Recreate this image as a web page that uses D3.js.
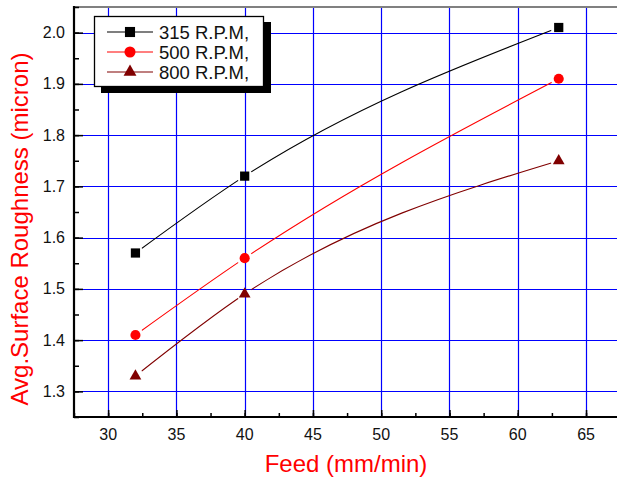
<!DOCTYPE html>
<html>
<head>
<meta charset="utf-8">
<script src="https://cdn.jsdelivr.net/npm/d3@7"></script>
<style>
  body { margin: 0; background: #fff; }
  svg { display: block; font-family: "Liberation Sans", Arial, sans-serif; }
</style>
</head>
<body>
<script>
// data
var feed = [32, 40, 63]
var rpm315 = [1.57, 1.72, 2.01]
var rpm500 = [1.41, 1.56, 1.91]
var rpm800 = [1.33, 1.49, 1.75]
var seriesNames = ["315 R.P.M,", "500 R.P.M,", "800 R.P.M,"]
var xTicks = [30, 35, 40, 45, 50, 55, 60, 65]
var yTicks = [1.3, 1.4, 1.5, 1.6, 1.7, 1.8, 1.9, 2.0]

var series = [
    {name: seriesNames[0], values: rpm315, color: "#000000", symbol: d3.symbolSquare, size: 85},
    {name: seriesNames[1], values: rpm500, color: "#ff0000", symbol: d3.symbolCircle, size: 80},
    {name: seriesNames[2], values: rpm800, color: "#800000", symbol: d3.symbolTriangle, size: 60}
]

var width = 617, height = 479

var svg = d3.select("body").append("svg")
    .attr("width", width)
    .attr("height", height)

var x = d3.scaleLinear().domain([27.5, 68]).range([74, 627])
var y = d3.scaleLinear().domain([1.25, 2.05]).range([417, 7])

// grid
var grid = svg.append("g")
grid.selectAll(".hg")
    .data(yTicks)
    .enter().append("line")
    .attr("x1", 74).attr("x2", width)
    .attr("y1", function(d) { return Math.round(y(d)) + 0.5 })
    .attr("y2", function(d) { return Math.round(y(d)) + 0.5 })
    .attr("stroke", "#0000ff").attr("stroke-width", 1.2)
grid.selectAll(".vg")
    .data(xTicks)
    .enter().append("line")
    .attr("y1", 7).attr("y2", 417)
    .attr("x1", function(d) { return Math.round(x(d)) + 0.5 })
    .attr("x2", function(d) { return Math.round(x(d)) + 0.5 })
    .attr("stroke", "#0000ff").attr("stroke-width", 1.2)

// top frame
svg.append("line")
    .attr("x1", 73).attr("x2", width).attr("y1", 7).attr("y2", 7)
    .attr("stroke", "#808080").attr("stroke-width", 2)

// axes with inner ticks
var yMinor = d3.range(1.25, 2.06, 0.05).map(function(d) { return +d.toFixed(2) })
var xMinor = d3.range(27.5, 68.1, 2.5)

svg.append("g")
    .attr("transform", "translate(74,0)")
    .call(d3.axisRight(y).tickValues(yMinor).tickSize(5).tickFormat(""))
    .call(function(g) { g.select(".domain").remove() })
    .selectAll("line").attr("stroke", "#000").attr("stroke-width", 1.5)
svg.append("g")
    .attr("transform", "translate(74,0)")
    .call(d3.axisRight(y).tickValues(yTicks).tickSize(9).tickFormat(""))
    .call(function(g) { g.select(".domain").remove() })
    .selectAll("line").attr("stroke", "#000").attr("stroke-width", 1.5)
svg.append("g")
    .attr("transform", "translate(0,417)")
    .call(d3.axisTop(x).tickValues(xMinor).tickSize(4).tickFormat(""))
    .call(function(g) { g.select(".domain").remove() })
    .selectAll("line").attr("stroke", "#000").attr("stroke-width", 1.5)
svg.append("g")
    .attr("transform", "translate(0,417)")
    .call(d3.axisTop(x).tickValues(xTicks).tickSize(7).tickFormat(""))
    .call(function(g) { g.select(".domain").remove() })
    .selectAll("line").attr("stroke", "#000").attr("stroke-width", 1.5)

svg.append("line")
    .attr("x1", 74).attr("x2", 74).attr("y1", 6).attr("y2", 418)
    .attr("stroke", "#000").attr("stroke-width", 2.2)
svg.append("line")
    .attr("x1", 73).attr("x2", width).attr("y1", 417).attr("y2", 417)
    .attr("stroke", "#000").attr("stroke-width", 2.2)

// tick labels
svg.selectAll(".ylab")
    .data(yTicks)
    .enter().append("text")
    .attr("x", 65)
    .attr("y", function(d) { return y(d) + 5.5 })
    .attr("text-anchor", "end")
    .attr("font-size", 16)
    .attr("fill", "#111")
    .text(function(d) { return d.toFixed(1) })
svg.selectAll(".xlab")
    .data(xTicks)
    .enter().append("text")
    .attr("x", function(d) { return x(d) })
    .attr("y", 440)
    .attr("text-anchor", "middle")
    .attr("font-size", 16)
    .attr("fill", "#111")
    .text(function(d) { return d })

// axis titles
svg.append("text")
    .attr("x", 346).attr("y", 472)
    .attr("text-anchor", "middle")
    .attr("font-size", 24)
    .attr("fill", "#ff0000")
    .text("Feed (mm/min)")
svg.append("text")
    .attr("transform", "translate(28,229) rotate(-90)")
    .attr("text-anchor", "middle")
    .attr("font-size", 24)
    .attr("fill", "#ff0000")
    .text("Avg.Surface Roughness (micron)")

// lines, with gaps around the symbols like Origin does
var line = d3.line()
    .x(function(d) { return x(d[0]) })
    .y(function(d) { return y(d[1]) })
    .curve(d3.curveMonotoneX)

var defs = svg.append("defs")
series.forEach(function(s, i) {
    var pts = feed.map(function(f, j) { return [f, s.values[j]] })
    var mask = defs.append("mask").attr("id", "gap" + i)
        .attr("maskUnits", "userSpaceOnUse")
        .attr("x", 0).attr("y", 0).attr("width", width).attr("height", height)
    mask.append("rect").attr("width", width).attr("height", height).attr("fill", "#fff")
    mask.selectAll("circle")
        .data(pts)
        .enter().append("circle")
        .attr("cx", function(d) { return x(d[0]) })
        .attr("cy", function(d) { return y(d[1]) })
        .attr("r", 8)
        .attr("fill", "#000")

    svg.append("path")
        .attr("d", line(pts))
        .attr("fill", "none")
        .attr("stroke", s.color)
        .attr("stroke-width", 1.1)
        .attr("mask", "url(#gap" + i + ")")

    svg.selectAll(".sym" + i)
        .data(pts)
        .enter().append("path")
        .attr("d", d3.symbol().type(s.symbol).size(s.size))
        .attr("transform", function(d) { return "translate(" + x(d[0]) + "," + y(d[1]) + ")" })
        .attr("fill", s.color)
})

// legend
var legend = svg.append("g")
legend.append("rect")
    .attr("x", 101).attr("y", 22).attr("width", 170).attr("height", 71)
    .attr("fill", "#000")
legend.append("rect")
    .attr("x", 94.5).attr("y", 16.5).attr("width", 169).attr("height", 70)
    .attr("fill", "#fff").attr("stroke", "#000").attr("stroke-width", 1.3)

series.forEach(function(s, i) {
    var ly = 32 + i * 20
    legend.append("line")
        .attr("x1", 107).attr("x2", 153).attr("y1", ly).attr("y2", ly)
        .attr("stroke", s.color).attr("stroke-width", 1.1)
    legend.append("path")
        .attr("d", d3.symbol().type(s.symbol).size(s.size * 1.2))
        .attr("transform", "translate(130," + ly + ")")
        .attr("fill", s.color)
    legend.append("text")
        .attr("x", 159).attr("y", ly + 6.5)
        .attr("font-size", 18.5)
        .attr("fill", "#111")
        .text(s.name)
})
</script>
</body>
</html>
